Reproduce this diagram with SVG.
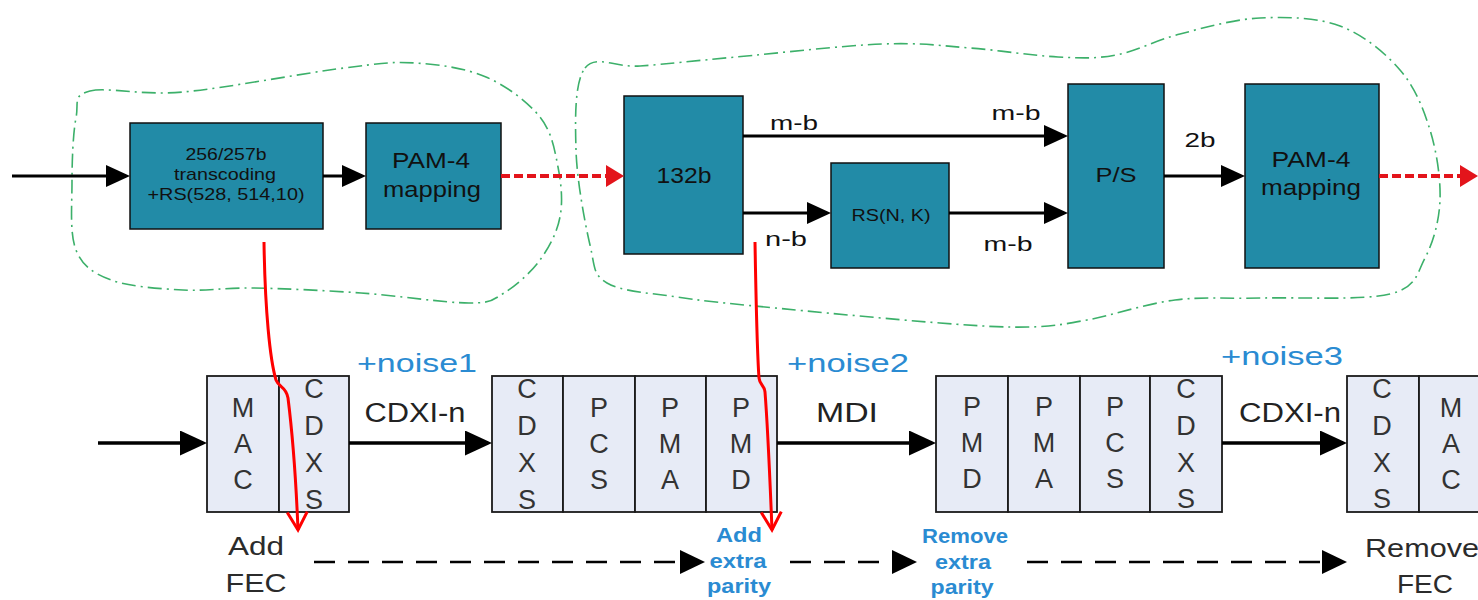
<svg xmlns="http://www.w3.org/2000/svg" width="1478" height="600" viewBox="0 0 1478 600">
<style>
  text { font-family: "Liberation Sans", Arial, sans-serif; }
  .blob { fill: none; stroke: #3cb06a; stroke-width: 1.6; stroke-dasharray: 14 5 2 5; }
  .teal { fill: #228ba7; stroke: #111; stroke-width: 1.5; }
  .cell { fill: #e7ebf6; stroke: #1a1a1a; stroke-width: 1.8; }
  .tt { fill: #111; text-anchor: middle; }
  .lbl { fill: #111; text-anchor: middle; font-size: 21px; }
  .let { fill: #333; text-anchor: middle; font-size: 27px; }
  .ifc { fill: #222; text-anchor: middle; font-size: 27px; }
  .noise { fill: #2a8bd2; text-anchor: middle; font-size: 26px; }
  .blue { fill: #2a8bd2; text-anchor: middle; font-size: 20px; font-weight: bold; }
  .dark { fill: #2b2b2b; text-anchor: middle; font-size: 25px; }
  .arr { fill: none; stroke: #000; stroke-width: 3.2; }
  .arrb { fill: none; stroke: #000; stroke-width: 3.6; }
  .dash { fill: none; stroke: #000; stroke-width: 2.6; stroke-dasharray: 21 13; }
  .red { fill: none; stroke: #e3141b; stroke-width: 4; stroke-dasharray: 9 4; }
  .rc { fill: none; stroke: #ff0000; stroke-width: 3; }
</style>
<defs>
  <marker id="ah" viewBox="0 0 24 22" refX="20" refY="11" markerWidth="24" markerHeight="22" markerUnits="userSpaceOnUse" orient="auto">
    <path d="M0,0 L24,11 L0,22 z" fill="#000"/>
  </marker>
  <marker id="ahb" viewBox="0 0 27 25" refX="23" refY="12.5" markerWidth="27" markerHeight="25" markerUnits="userSpaceOnUse" orient="auto">
    <path d="M0,0 L27,12.5 L0,25 z" fill="#000"/>
  </marker>
  <marker id="ahd" viewBox="0 0 25 24" refX="21" refY="12" markerWidth="25" markerHeight="24" markerUnits="userSpaceOnUse" orient="auto">
    <path d="M0,0 L25,12 L0,24 z" fill="#000"/>
  </marker>
  <marker id="ahr" viewBox="0 0 18 22" refX="14" refY="11" markerWidth="18" markerHeight="22" markerUnits="userSpaceOnUse" orient="auto">
    <path d="M0,0 L18,11 L0,22 z" fill="#e3141b"/>
  </marker>
  <marker id="vr" viewBox="-20 -12 22 24" refX="0" refY="0" markerWidth="22" markerHeight="24" markerUnits="userSpaceOnUse" orient="auto" overflow="visible">
    <path d="M-18,-10 L0,0 L-18,10" fill="none" stroke="#ff0000" stroke-width="3"/>
  </marker>
</defs>
<rect width="1478" height="600" fill="#fff"/>

<g id="blobs">
  <path class="blob" d="M90,91 C107.8,86.7 140.7,95.8 183,92 C225.3,88.2 305.3,72.8 344,68 C382.7,63.2 391.3,61.5 415,63 C438.7,64.5 465.2,68 486,77 C506.8,86 528,102 540,117 C552,132 554.7,150.3 558,167 C561.3,183.7 563,201.5 560,217 C557,232.5 549.3,247.3 540,260 C530.7,272.7 515.8,285.8 504,293 C492.2,300.2 492.8,303 469,303 C445.2,303 396.8,295.5 361,293 C325.2,290.5 283.7,288.5 254,288 C224.3,287.5 206.8,291.3 183,290 C159.2,288.7 128.8,286.7 111,280 C93.2,273.3 82.5,266.2 76,250 C69.5,233.8 72,205 72,183 C72,161 73,133.3 76,118 C79,102.7 72.2,95.3 90,91 Z"/>
  <path class="blob" d="M585,68 C595.7,54 614.8,67.8 640,66 C665.2,64.2 695.7,60.7 736,57 C776.3,53.3 843,45.5 882,44 C921,42.5 940.7,45.8 970,48 C999.3,50.2 1033.7,55.8 1058,57 C1082.3,58.2 1095.7,58.8 1116,55 C1136.3,51.2 1156,40.2 1180,34 C1204,27.8 1233.3,19.3 1260,18 C1286.7,16.7 1316.7,17.3 1340,26 C1363.3,34.7 1385,52.7 1400,70 C1415,87.3 1423.3,108.3 1430,130 C1436.7,151.7 1440.8,178.7 1440,200 C1439.2,221.3 1433.3,242.3 1425,258 C1416.7,273.7 1417,287.3 1390,294 C1363,300.7 1298.8,297 1263,298 C1227.2,299 1204.3,296.3 1175,300 C1145.7,303.7 1111.5,315.5 1087,320 C1062.5,324.5 1052.5,326.5 1028,327 C1003.5,327.5 983.8,326.3 940,323 C896.2,319.7 808.8,311.3 765,307 C721.2,302.7 703.3,301 677,297 C650.7,293 621.5,291.7 607,283 C592.5,274.3 595.2,267.2 590,245 C584.8,222.8 576.8,179.5 576,150 C575.2,120.5 574.3,82 585,68 Z"/>
</g>

<g id="n-transcode">
  <rect class="teal" x="130" y="123" width="193" height="106"/>
  <text class="tt" font-size="17" x="226" y="160" textLength="81" lengthAdjust="spacingAndGlyphs">256/257b</text>
  <text class="tt" font-size="17" x="225" y="180" textLength="102" lengthAdjust="spacingAndGlyphs">transcoding</text>
  <text class="tt" font-size="17" x="226" y="200" textLength="157" lengthAdjust="spacingAndGlyphs">+RS(528, 514,10)</text>
</g>
<g id="n-pam4-a">
  <rect class="teal" x="366" y="123" width="135" height="106"/>
  <text class="tt" font-size="22" x="431" y="168" textLength="78" lengthAdjust="spacingAndGlyphs">PAM-4</text>
  <text class="tt" font-size="22" x="432" y="197" textLength="98" lengthAdjust="spacingAndGlyphs">mapping</text>
</g>
<g id="n-132b">
  <rect class="teal" x="624" y="96" width="119" height="158"/>
  <text class="tt" font-size="22" x="684" y="183" textLength="55" lengthAdjust="spacingAndGlyphs">132b</text>
</g>
<g id="n-rs">
  <rect class="teal" x="831" y="163" width="118" height="105"/>
  <text class="tt" font-size="16" x="891" y="221" textLength="79" lengthAdjust="spacingAndGlyphs">RS(N, K)</text>
</g>
<g id="n-ps">
  <rect class="teal" x="1068" y="84" width="96" height="184"/>
  <text class="tt" font-size="21" x="1116" y="182" textLength="41" lengthAdjust="spacingAndGlyphs">P/S</text>
</g>
<g id="n-pam4-b">
  <rect class="teal" x="1245" y="84" width="134" height="184"/>
  <text class="tt" font-size="22" x="1311" y="167" textLength="79" lengthAdjust="spacingAndGlyphs">PAM-4</text>
  <text class="tt" font-size="22" x="1311" y="195" textLength="100" lengthAdjust="spacingAndGlyphs">mapping</text>
</g>

<g id="n-mac1">
  <rect class="cell" x="207" y="376" width="72" height="136"/>
  <text class="let" x="243" y="417">M</text><text class="let" x="243" y="453">A</text><text class="let" x="243" y="489">C</text>
</g>
<g id="n-cdxs1">
  <rect class="cell" x="279" y="376" width="70" height="136"/>
  <text class="let" x="314" y="398">C</text><text class="let" x="314" y="435">D</text><text class="let" x="314" y="472">X</text><text class="let" x="314" y="509">S</text>
</g>
<g id="n-cdxs2">
  <rect class="cell" x="492" y="376" width="71" height="136"/>
  <text class="let" x="527" y="398">C</text><text class="let" x="527" y="435">D</text><text class="let" x="527" y="472">X</text><text class="let" x="527" y="509">S</text>
</g>
<g id="n-pcs2">
  <rect class="cell" x="563" y="376" width="72" height="136"/>
  <text class="let" x="599" y="417">P</text><text class="let" x="599" y="453">C</text><text class="let" x="599" y="489">S</text>
</g>
<g id="n-pma2">
  <rect class="cell" x="635" y="376" width="71" height="136"/>
  <text class="let" x="670" y="417">P</text><text class="let" x="670" y="453">M</text><text class="let" x="670" y="489">A</text>
</g>
<g id="n-pmd2">
  <rect class="cell" x="706" y="376" width="71" height="136"/>
  <text class="let" x="741" y="417">P</text><text class="let" x="741" y="453">M</text><text class="let" x="741" y="489">D</text>
</g>
<g id="n-pmd3">
  <rect class="cell" x="936" y="376" width="72" height="136"/>
  <text class="let" x="972" y="416">P</text><text class="let" x="972" y="452">M</text><text class="let" x="972" y="488">D</text>
</g>
<g id="n-pma3">
  <rect class="cell" x="1008" y="376" width="72" height="136"/>
  <text class="let" x="1044" y="416">P</text><text class="let" x="1044" y="452">M</text><text class="let" x="1044" y="488">A</text>
</g>
<g id="n-pcs3">
  <rect class="cell" x="1080" y="376" width="70" height="136"/>
  <text class="let" x="1115" y="416">P</text><text class="let" x="1115" y="452">C</text><text class="let" x="1115" y="488">S</text>
</g>
<g id="n-cdxs3">
  <rect class="cell" x="1150" y="376" width="72" height="136"/>
  <text class="let" x="1186" y="398">C</text><text class="let" x="1186" y="435">D</text><text class="let" x="1186" y="472">X</text><text class="let" x="1186" y="508">S</text>
</g>
<g id="n-cdxs4">
  <rect class="cell" x="1347" y="376" width="72" height="136"/>
  <text class="let" x="1382" y="398">C</text><text class="let" x="1382" y="435">D</text><text class="let" x="1382" y="472">X</text><text class="let" x="1382" y="508">S</text>
</g>
<g id="n-mac4">
  <rect class="cell" x="1419" y="376" width="72" height="136"/>
  <text class="let" x="1451" y="417">M</text><text class="let" x="1451" y="453">A</text><text class="let" x="1451" y="489">C</text>
</g>

<g id="n-addfec">
  <text class="dark" x="256" y="555" textLength="56" lengthAdjust="spacingAndGlyphs">Add</text>
  <text class="dark" x="256" y="592" textLength="61" lengthAdjust="spacingAndGlyphs">FEC</text>
</g>
<g id="n-addparity">
  <text class="blue" x="739" y="542" textLength="46" lengthAdjust="spacingAndGlyphs">Add</text>
  <text class="blue" x="738" y="568" textLength="57" lengthAdjust="spacingAndGlyphs">extra</text>
  <text class="blue" x="739" y="593" textLength="64" lengthAdjust="spacingAndGlyphs">parity</text>
</g>
<g id="n-rmparity">
  <text class="blue" x="965" y="543" textLength="86" lengthAdjust="spacingAndGlyphs">Remove</text>
  <text class="blue" x="963" y="569" textLength="56" lengthAdjust="spacingAndGlyphs">extra</text>
  <text class="blue" x="962" y="594" textLength="63" lengthAdjust="spacingAndGlyphs">parity</text>
</g>
<g id="n-rmfec">
  <text class="dark" x="1422" y="557" textLength="114" lengthAdjust="spacingAndGlyphs">Remove</text>
  <text class="dark" x="1425" y="593" textLength="56" lengthAdjust="spacingAndGlyphs">FEC</text>
</g>

<g id="connectors">
  <path class="arr" d="M12,176 H126" marker-end="url(#ah)"/>
  <path class="arr" d="M323,176 H362" marker-end="url(#ah)"/>
  <path class="red" d="M501,176 H620" marker-end="url(#ahr)"/>
  <path class="arr" d="M743,136 H1064" marker-end="url(#ah)"/>
  <path class="arr" d="M743,213 H827" marker-end="url(#ah)"/>
  <path class="arr" d="M949,213 H1064" marker-end="url(#ah)"/>
  <path class="arr" d="M1164,176 H1241" marker-end="url(#ah)"/>
  <path class="red" d="M1379,176 H1474" marker-end="url(#ahr)"/>

  <path class="arrb" d="M98,443 H203" marker-end="url(#ahb)"/>
  <path class="arrb" d="M349,443 H488" marker-end="url(#ahb)"/>
  <path class="arrb" d="M777,443 H932" marker-end="url(#ahb)"/>
  <path class="arrb" d="M1222,443 H1343" marker-end="url(#ahb)"/>

  <path class="dash" d="M314,562 H701" marker-end="url(#ahd)"/>
  <path class="dash" d="M790,562 H913" marker-end="url(#ahd)"/>
  <path class="dash" d="M1027,562 H1343" marker-end="url(#ahd)"/>

  <text class="lbl" x="794" y="130" textLength="48" lengthAdjust="spacingAndGlyphs">m-b</text>
  <text class="lbl" x="1016" y="120" textLength="49" lengthAdjust="spacingAndGlyphs">m-b</text>
  <text class="lbl" x="786" y="246" textLength="42" lengthAdjust="spacingAndGlyphs">n-b</text>
  <text class="lbl" x="1008" y="251" textLength="49" lengthAdjust="spacingAndGlyphs">m-b</text>
  <text class="lbl" x="1200" y="147" textLength="31" lengthAdjust="spacingAndGlyphs">2b</text>

  <text class="ifc" x="415" y="422" textLength="101" lengthAdjust="spacingAndGlyphs">CDXI-n</text>
  <text class="ifc" x="847" y="422" textLength="62" lengthAdjust="spacingAndGlyphs">MDI</text>
  <text class="ifc" x="1290" y="422" textLength="102" lengthAdjust="spacingAndGlyphs">CDXI-n</text>
  <text class="noise" x="417" y="372" textLength="120" lengthAdjust="spacingAndGlyphs">+noise1</text>
  <text class="noise" x="848" y="372" textLength="122" lengthAdjust="spacingAndGlyphs">+noise2</text>
  <text class="noise" x="1282" y="365" textLength="122" lengthAdjust="spacingAndGlyphs">+noise3</text>

  <path class="rc" d="M264,242 C265,310 270,360 276,380 C279,388 286,386 288,398 C292,430 296,480 298,530" marker-end="url(#vr)"/>
  <path class="rc" d="M755,242 C756,300 757,350 759,378 C760,386 764,384 765,392 C768,430 770,480 772,530" marker-end="url(#vr)"/>
</g>
</svg>
